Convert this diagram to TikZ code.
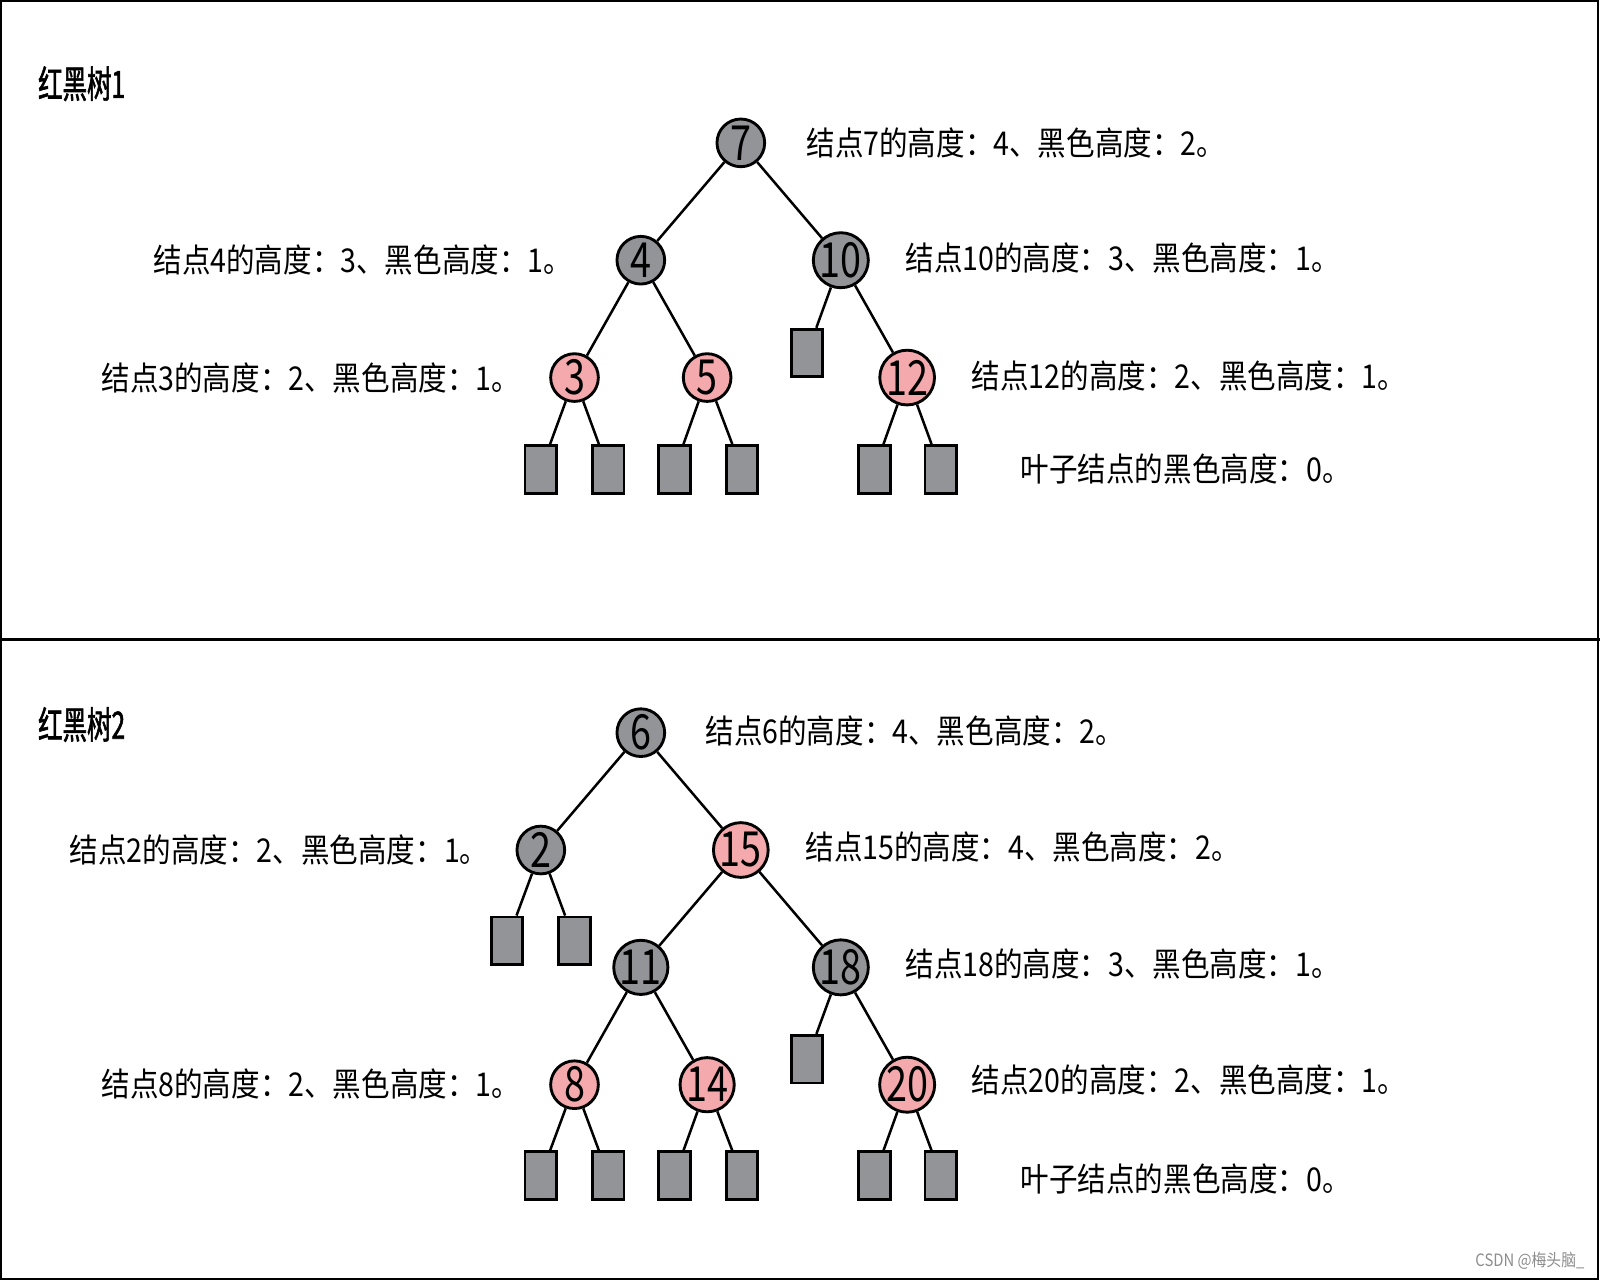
\documentclass[tikz,border=0pt]{standalone}
\usepackage{fontspec}
\usepackage{xcolor}
\usetikzlibrary{positioning}
\newfontfamily\cjk[FakeStretch=0.87]{Noto Sans CJK SC}
\newfontfamily\numfont[FakeStretch=0.78]{Noto Sans CJK SC}
\newfontfamily\titlefont[FakeStretch=0.65,FakeBold=1.5]{Noto Sans CJK SC}
\definecolor{nodegray}{HTML}{939498}
\definecolor{nodepink}{HTML}{F4A9AD}

\begin{document}
\begin{tikzpicture}[x=0.02cm,y=-0.02cm,
  blk/.style={circle,draw,line width=1.6pt,fill=nodegray,minimum size=26.6pt,inner sep=0pt,font=\numfont\fontsize{27}{27}\selectfont},
  red/.style={blk,fill=nodepink},
  leaf/.style={draw,line width=1.6pt,fill=nodegray,minimum width=17.6pt,minimum height=26.6pt,inner sep=0pt},
  lbl/.style={inner sep=0pt,font=\cjk\fontsize{18.3}{20}\selectfont},
  title/.style={inner sep=0pt,anchor=west,font=\titlefont\fontsize{21}{22}\selectfont},
  edge/.style={line width=1.4pt}]
\useasboundingbox (0,0) rectangle (1568,1254.4);
\draw[line width=1.1pt] (1,1) rectangle (1566,1253);
\draw[line width=1.7pt] (0,627)--(1568,627);

% tree 1
\node[title] (title1) at (37,82) {红黑树1};
\node[blk] (n7) at (726,140) {7};
\node[blk] (n4) at (628,255) {4};
\node[blk] (n10) at (824,255) {10};
\node[red] (n3) at (563,370) {3};
\node[red] (n5) at (693,370) {5};
\node[red] (n12) at (889,370) {12};
\node[leaf] (l10) at (791,346) {};
\node[leaf] (l3a) at (530,460) {};
\node[leaf] (l3b) at (596,460) {};
\node[leaf] (l5a) at (661,460) {};
\node[leaf] (l5b) at (727,460) {};
\node[leaf] (l12a) at (857,460) {};
\node[leaf] (l12b) at (922,460) {};
\draw[edge] (n7)--(n4);
\draw[edge] (n7)--(n10);
\draw[edge] (n4)--(n3);
\draw[edge] (n4)--(n5);
\draw[edge] (n10)--(l10);
\draw[edge] (n10)--(n12);
\draw[edge] (n3)--(l3a);
\draw[edge] (n3)--(l3b);
\draw[edge] (n5)--(l5a);
\draw[edge] (n5)--(l5b);
\draw[edge] (n12)--(l12a);
\draw[edge] (n12)--(l12b);
\node[lbl,anchor=west] (t7) at (790,140) {结点7的高度：4、黑色高度：2。};
\node[lbl,anchor=east] (t4) at (561,255) {结点4的高度：3、黑色高度：1。};
\node[lbl,anchor=west] (t10) at (887,253) {结点10的高度：3、黑色高度：1。};
\node[lbl,anchor=east] (t3) at (510,370) {结点3的高度：2、黑色高度：1。};
\node[lbl,anchor=west] (t12) at (952,368) {结点12的高度：2、黑色高度：1。};
\node[lbl,anchor=west] (tleaf1) at (1000,460) {叶子结点的黑色高度：0。};

% tree 2
\node[title] (title2) at (37,710) {红黑树2};
\node[blk] (m6) at (628,718) {6};
\node[blk] (m2) at (530,833) {2};
\node[red] (m15) at (726,833) {15};
\node[blk] (m11) at (628,948) {11};
\node[blk] (m18) at (824,948) {18};
\node[red] (m8) at (563,1063) {8};
\node[red] (m14) at (693,1063) {14};
\node[red] (m20) at (889,1063) {20};
\node[leaf] (k2a) at (497,922) {};
\node[leaf] (k2b) at (563,922) {};
\node[leaf] (k18) at (791,1038) {};
\node[leaf] (k8a) at (530,1152) {};
\node[leaf] (k8b) at (596,1152) {};
\node[leaf] (k14a) at (661,1152) {};
\node[leaf] (k14b) at (727,1152) {};
\node[leaf] (k20a) at (857,1152) {};
\node[leaf] (k20b) at (922,1152) {};
\draw[edge] (m6)--(m2);
\draw[edge] (m6)--(m15);
\draw[edge] (m2)--(k2a);
\draw[edge] (m2)--(k2b);
\draw[edge] (m15)--(m11);
\draw[edge] (m15)--(m18);
\draw[edge] (m11)--(m8);
\draw[edge] (m11)--(m14);
\draw[edge] (m18)--(k18);
\draw[edge] (m18)--(m20);
\draw[edge] (m8)--(k8a);
\draw[edge] (m8)--(k8b);
\draw[edge] (m14)--(k14a);
\draw[edge] (m14)--(k14b);
\draw[edge] (m20)--(k20a);
\draw[edge] (m20)--(k20b);
\node[lbl,anchor=west] (t6) at (691,716) {结点6的高度：4、黑色高度：2。};
\node[lbl,anchor=east] (t2) at (479,833) {结点2的高度：2、黑色高度：1。};
\node[lbl,anchor=west] (t15) at (789,830) {结点15的高度：4、黑色高度：2。};
\node[lbl,anchor=west] (t18) at (887,945) {结点18的高度：3、黑色高度：1。};
\node[lbl,anchor=east] (t8) at (510,1062) {结点8的高度：2、黑色高度：1。};
\node[lbl,anchor=west] (t20) at (952,1058) {结点20的高度：2、黑色高度：1。};
\node[lbl,anchor=west] (tleaf2) at (1000,1155) {叶子结点的黑色高度：0。};

\node[inner sep=0pt,anchor=east,text=black!45,font=\cjk\fontsize{9.5}{10}\selectfont] (mark) at (1553,1236) {CSDN @梅头脑\_};
\end{tikzpicture}
\end{document}
